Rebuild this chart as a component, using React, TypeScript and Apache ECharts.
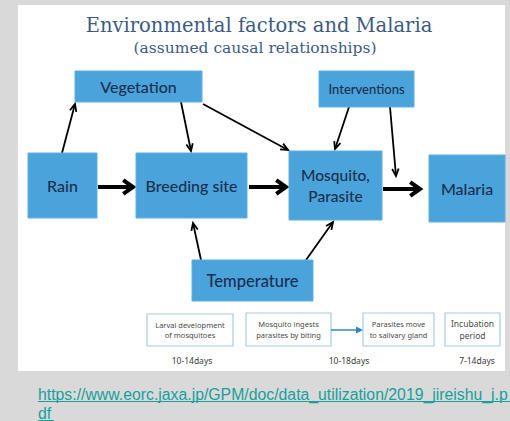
import React, { useEffect, useRef } from "react";
import * as echarts from "echarts";

// ---- data ----
const titleText = "Environmental factors and Malaria";
const subtitleText = "(assumed causal relationships)";
const factorNames = ["Rain", "Vegetation", "Breeding site", "Mosquito,\nParasite", "Interventions", "Malaria", "Temperature"];
// causal links: [from, to, kind]
const linkFrom = ["Rain", "Vegetation", "Vegetation", "Interventions", "Interventions", "Temperature", "Temperature", "Rain", "Breeding site", "Mosquito,\nParasite"];
const linkTo = ["Vegetation", "Breeding site", "Mosquito,\nParasite", "Mosquito,\nParasite", "Malaria", "Breeding site", "Mosquito,\nParasite", "Breeding site", "Mosquito,\nParasite", "Malaria"];
const linkKind = ["thin", "thin", "thin", "thin", "thin", "thin", "thin", "thick", "thick", "thick"];
const stepLabels = ["Larval development\nof mosquitoes", "Mosquito ingests\nparasites by biting", "Parasites move\nto salivary gland", "Incubation\nperiod"];
const durationLabels = ["10-14days", "10-18days", "7-14days"];
const sourceLine1 = "https://www.eorc.jaxa.jp/GPM/doc/data_utilization/2019_jireishu_j.p";
const sourceLine2 = "df";

// ---- layout (positions only) ----
const boxLayout: Record<string, { x: number; y: number; w: number; h: number; fs: number }> = {
  "Rain": { x: 28, y: 153, w: 69, h: 65, fs: 16 },
  "Vegetation": { x: 75, y: 71, w: 127, h: 31, fs: 16 },
  "Breeding site": { x: 136, y: 153, w: 111, h: 65, fs: 16 },
  "Mosquito,\nParasite": { x: 289, y: 151, w: 93, h: 69, fs: 15.5 },
  "Interventions": { x: 319, y: 71, w: 95, h: 36, fs: 13 },
  "Malaria": { x: 429, y: 155, w: 76, h: 67, fs: 16 },
  "Temperature": { x: 192, y: 260, w: 121, h: 41, fs: 16.5 },
};
const linkAnchors: number[][] = [
  [62, 153, 75, 104],
  [181, 102, 191, 151],
  [203, 104, 288, 150],
  [349, 107, 335, 149],
  [390, 107, 396, 176],
  [201, 260, 193, 223],
  [306, 260, 333, 222],
  [98, 187, 134, 187],
  [249, 187, 287, 187],
  [383, 189, 421, 189],
];
const stepBoxes = [
  { x: 147, y: 314, w: 86, h: 32, fs: 7.5 },
  { x: 246, y: 313, w: 85, h: 33, fs: 7.5 },
  { x: 363, y: 313, w: 71, h: 33, fs: 7.5 },
  { x: 445, y: 313, w: 55, h: 33, fs: 8.5 },
];
const durationPos = [[192, 360], [349, 360], [477, 360]];

const BLUE = "#4aa3da";
const NAVY = "#1c2f4e";

function arrowEls(x1: number, y1: number, x2: number, y2: number, lw: number, head: number, ang: number, color: string) {
  const a = Math.atan2(y2 - y1, x2 - x1);
  const p1 = [x2 - head * Math.cos(a - ang), y2 - head * Math.sin(a - ang)];
  const p2 = [x2 - head * Math.cos(a + ang), y2 - head * Math.sin(a + ang)];
  return [
    { type: "line", shape: { x1, y1, x2, y2 }, style: { stroke: color, lineWidth: lw, lineCap: "butt" } },
    { type: "polyline", shape: { points: [p1, [x2, y2], p2] }, style: { stroke: color, lineWidth: lw, fill: null, lineJoin: "miter", lineCap: "butt" } },
  ];
}

export default function App() {
  const ref = useRef<HTMLDivElement>(null);
  useEffect(() => {
    if (!ref.current) return;
    const chart = echarts.init(ref.current, null, { renderer: "svg" });
    const els: any[] = [];
    // white panel
    els.push({ type: "rect", shape: { x: 18, y: 5, width: 487, height: 366 }, style: { fill: "#ffffff" } });
    els.push({ type: "text", x: 259, y: 25, style: { text: titleText, font: "19.5px 'DejaVu Serif'", fill: "#3d5b82", align: "center", verticalAlign: "middle" } });
    els.push({ type: "text", x: 255, y: 48, style: { text: subtitleText, font: "15.5px 'DejaVu Serif'", fill: "#3d5b82", align: "center", verticalAlign: "middle" } });
    // links
    linkFrom.forEach((f, i) => {
      const [x1, y1, x2, y2] = linkAnchors[i];
      if (linkKind[i] === "thick") els.push(...arrowEls(x1, y1, x2 - 1, y2, 4, 12, 0.62, "#000"));
      else els.push(...arrowEls(x1, y1, x2, y2, 1.8, 8, 0.42, "#000"));
    });
    // factor boxes
    factorNames.forEach((n) => {
      const b = boxLayout[n];
      els.push({ type: "rect", shape: { x: b.x, y: b.y, width: b.w, height: b.h }, style: { fill: BLUE, stroke: "#5db0e2", lineWidth: 1 } });
      els.push({ type: "text", x: b.x + b.w / 2, y: b.y + b.h / 2, style: { text: n, font: `500 ${b.fs}px Lato`, fill: NAVY, align: "center", verticalAlign: "middle", lineHeight: b.fs * 1.3 } });
    });
    // step boxes
    stepLabels.forEach((s, i) => {
      const b = stepBoxes[i];
      els.push({ type: "rect", shape: { x: b.x, y: b.y, width: b.w, height: b.h }, style: { fill: "#fff", stroke: "#a9cbe4", lineWidth: 1.2 } });
      els.push({ type: "text", x: b.x + b.w / 2, y: b.y + b.h / 2, style: { text: s, font: `${b.fs}px 'Noto Sans'`, fill: "#4a4a4a", align: "center", verticalAlign: "middle", lineHeight: b.fs * 1.45 } });
    });
    // blue step arrow
    els.push({ type: "line", shape: { x1: 331, y1: 330, x2: 358, y2: 330 }, style: { stroke: "#2f86c4", lineWidth: 1.5 } });
    els.push({ type: "polygon", shape: { points: [[363, 330], [356, 326.5], [356, 333.5]] }, style: { fill: "#2f86c4" } });
    durationLabels.forEach((d, i) => {
      els.push({ type: "text", x: durationPos[i][0], y: durationPos[i][1], style: { text: d, font: "8.5px 'Noto Sans'", fill: "#3a3a3a", align: "center", verticalAlign: "middle" } });
    });
    // source link
    els.push({ type: "text", x: 38, y: 394, style: { text: sourceLine1, font: "15.8px 'Liberation Sans'", fill: "#17a09c", align: "left", verticalAlign: "middle" } });
    els.push({ type: "line", shape: { x1: 38, y1: 401.5, x2: 510, y2: 401.5 }, style: { stroke: "#17a09c", lineWidth: 1 } });
    els.push({ type: "text", x: 38, y: 413, style: { text: sourceLine2, font: "15.8px 'Liberation Sans'", fill: "#17a09c", align: "left", verticalAlign: "middle" } });
    els.push({ type: "line", shape: { x1: 38, y1: 420.5, x2: 54, y2: 420.5 }, style: { stroke: "#17a09c", lineWidth: 1 } });

    chart.setOption({
      animation: false,
      backgroundColor: "#d9d9d9",
      graphic: { elements: els },
    });
    return () => chart.dispose();
  }, []);
  return <div ref={ref} style={{ position: "fixed", left: 0, top: 0, width: 510, height: 421 }} />;
}
